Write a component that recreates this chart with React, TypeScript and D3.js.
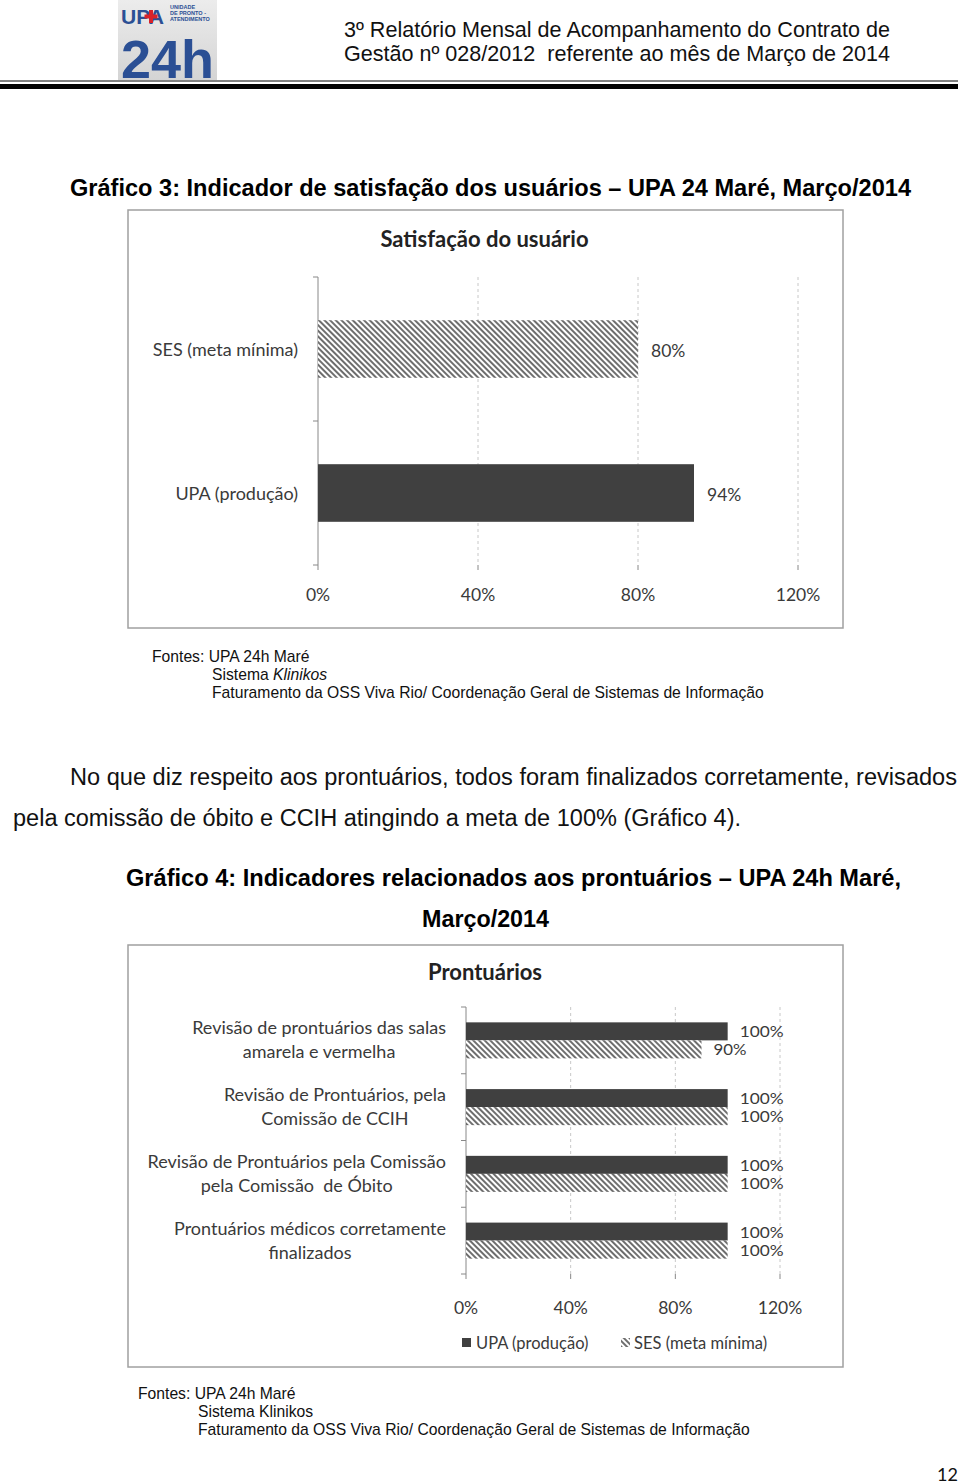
import React from 'react';
import * as d3 from 'd3';

// chart 1
const satCategories = ['SES (meta mínima)', 'UPA (produção)'];
const satValues = [0.8, 0.94];
const xTickValues = [0, 0.4, 0.8, 1.2];

// chart 2
const prontLabels = [
  ['Revisão de prontuários das salas', 'amarela e vermelha'],
  ['Revisão de Prontuários, pela', 'Comissão de CCIH'],
  ['Revisão de Prontuários pela Comissão', 'pela Comissão  de Óbito'],
  ['Prontuários médicos corretamente', 'finalizados'],
];
const seriesNames = ['UPA (produção)', 'SES (meta mínima)'];
const upaValues = [1, 1, 1, 1];
const sesValues = [0.9, 1, 1, 1];

const docFont = '"Liberation Sans", Arial, sans-serif';
const chartFont = 'Lato, "Noto Sans", sans-serif';
const chartText = '#3a3a3a';
const darkBar = '#404040';
const gridColor = '#c8c8c8';
const pct = d3.format('.0%');

const ctx = typeof document !== 'undefined' ? document.createElement('canvas').getContext('2d') : null;
function textWidth(s: string, font: string) {
  if (!ctx) return s.length * 8;
  ctx.font = font;
  return ctx.measureText(s).width;
}

const Logo = () => (
  <g>
    <defs>
      <linearGradient id="logoBg" x1="0" y1="0" x2="0" y2="1">
        <stop offset="0%" stopColor="#ececec" />
        <stop offset="100%" stopColor="#d4d4d4" />
      </linearGradient>
    </defs>
    <rect x={118} y={0} width={99} height={80} fill="url(#logoBg)" />
    <text x={121} y={24} fontFamily={docFont} fontWeight="bold" fontSize={21} fill="#2b4f94" textLength={43} lengthAdjust="spacingAndGlyphs">UPA</text>
    <rect x={149} y={10} width={4} height={13} fill="#d8232a" />
    <rect x={144.5} y={14.5} width={13} height={4} fill="#d8232a" />
    <text fontFamily={docFont} fontSize={5.5} fontWeight="bold" fill="#2b4f94">
      <tspan x={170} y={9}>UNIDADE</tspan>
      <tspan x={170} y={15}>DE PRONTO -</tspan>
      <tspan x={170} y={21}>ATENDIMENTO</tspan>
    </text>
    <text x={121} y={78} fontFamily={docFont} fontWeight="bold" fontSize={54} fill="#2b4f94" textLength={93} lengthAdjust="spacingAndGlyphs">24h</text>
  </g>
);

const HatchDefs = () => (
  <defs>
    <pattern id="hatch" width={4} height={4} patternUnits="userSpaceOnUse" patternTransform="rotate(45)">
      <rect width={4} height={4} fill="#ffffff" />
      <rect width={4} height={2} fill="#6e6e6e" />
    </pattern>
  </defs>
);

const SatisfactionChart = () => {
  const x = d3.scaleLinear().domain([0, 1.2]).range([318, 798]);
  const y = d3.scaleBand<string>().domain(satCategories).range([277, 565]).paddingInner(0.6).paddingOuter(0.3);
  const [top, bottom] = y.range();
  return (
    <g fontFamily={chartFont}>
      <rect x={128} y={210} width={715} height={418} fill="#fff" stroke="#a0a0a0" strokeWidth={1.5} />
      <text x={484.5} y={247} textAnchor="middle" fontWeight="bold" fontSize={22} fill="#222">Satisfação do usuário</text>
      {xTickValues.slice(1).map(t => (
        <line key={t} x1={x(t)} x2={x(t)} y1={top} y2={bottom} stroke={gridColor} strokeDasharray="3,3" />
      ))}
      {xTickValues.map(t => (
        <g key={'t' + t}>
          <line x1={x(t)} x2={x(t)} y1={bottom} y2={bottom + 5} stroke="#888" />
          <text x={x(t)} y={601} textAnchor="middle" fontSize={17.5} fill={chartText}>{pct(t)}</text>
        </g>
      ))}
      <line x1={x(0)} x2={x(0)} y1={top} y2={bottom} stroke="#888" />
      {[top, top + y.step(), bottom].map(v => (
        <line key={v} x1={x(0) - 5} x2={x(0)} y1={v} y2={v} stroke="#888" />
      ))}
      {satCategories.map((c, i) => {
        const by = y(c)!;
        const cy = by + y.bandwidth() / 2;
        return (
          <g key={c}>
            <rect x={x(0)} y={by} width={x(satValues[i]) - x(0)} height={y.bandwidth()}
              fill={i === 0 ? 'url(#hatch)' : darkBar} />
            <text x={298} y={cy + 7} textAnchor="end" fontSize={18} fill={chartText}>{c}</text>
            <text x={x(satValues[i]) + 13} y={cy + 8} fontSize={17.5} fill={chartText}>{pct(satValues[i])}</text>
          </g>
        );
      })}
    </g>
  );
};

const ProntuariosChart = () => {
  const x = d3.scaleLinear().domain([0, 1.2]).range([466, 780]);
  const idx = prontLabels.map((_, i) => String(i));
  const y = d3.scaleBand<string>().domain(idx).range([1007, 1274]).paddingInner(0.46).paddingOuter(0.23);
  const sub = d3.scaleBand<string>().domain(seriesNames).range([0, y.bandwidth()]);
  const [top, bottom] = y.range();
  const labelFont = `18px ${chartFont}`;
  const series = [upaValues, sesValues];
  return (
    <g fontFamily={chartFont}>
      <rect x={128} y={945} width={715} height={422} fill="#fff" stroke="#a0a0a0" strokeWidth={1.5} />
      <text x={485} y={980} textAnchor="middle" fontWeight="bold" fontSize={22} fill="#222">Prontuários</text>
      {xTickValues.slice(1).map(t => (
        <line key={t} x1={x(t)} x2={x(t)} y1={top} y2={bottom} stroke={gridColor} strokeDasharray="3,3" />
      ))}
      {xTickValues.map(t => (
        <g key={'t' + t}>
          <line x1={x(t)} x2={x(t)} y1={bottom} y2={bottom + 5} stroke="#888" />
          <text x={x(t)} y={1314} textAnchor="middle" fontSize={17.5} fill={chartText}>{pct(t)}</text>
        </g>
      ))}
      <line x1={x(0)} x2={x(0)} y1={top} y2={bottom} stroke="#888" />
      {d3.range(prontLabels.length + 1).map(k => {
        const v = top + k * y.step();
        return <line key={k} x1={x(0) - 5} x2={x(0)} y1={v} y2={v} stroke="#888" />;
      })}
      {prontLabels.map((lines, i) => {
        const by = y(String(i))!;
        const cy = by + y.bandwidth() / 2;
        const w = Math.max(...lines.map(l => textWidth(l, labelFont)));
        const cx = 446 - w / 2;
        return (
          <g key={i}>
            {seriesNames.map((s, j) => {
              const v = series[j][i];
              const sy = by + sub(s)!;
              const lbl = pct(v);
              return (
                <g key={s}>
                  <rect x={x(v) - x(0) > 0 ? x(0) : x(0)} y={sy} width={x(v) - x(0)} height={sub.bandwidth()}
                    fill={j === 0 ? darkBar : 'url(#hatch)'} />
                  <text x={x(v) + 12} y={sy + sub.bandwidth() / 2 + 6} fontSize={14.5}
                    textLength={lbl.length * 11} lengthAdjust="spacingAndGlyphs" fill={chartText}>{lbl}</text>
                </g>
              );
            })}
            {lines.map((l, k) => (
              <text key={k} x={cx} y={cy - 12 + k * 24 + 6} textAnchor="middle" fontSize={18} fill={chartText}
                style={{ whiteSpace: 'pre' }}>{l}</text>
            ))}
          </g>
        );
      })}
      <rect x={462} y={1338} width={9} height={9} fill={darkBar} />
      <text x={476} y={1349} fontSize={16.5} fill={chartText}>{seriesNames[0]}</text>
      <rect x={621} y={1338} width={9} height={9} fill="url(#hatch)" />
      <text x={634} y={1349} fontSize={16.5} fill={chartText}>{seriesNames[1]}</text>
    </g>
  );
};

const Fontes = ({ x, y, italic }: { x: number; y: number; italic: boolean }) => (
  <text fontFamily={docFont} fontSize={15.7} fill="#111">
    <tspan x={x} y={y}>Fontes: UPA 24h Maré</tspan>
    <tspan x={x + 60} y={y + 18}>Sistema </tspan>
    <tspan fontStyle={italic ? 'italic' : 'normal'}>Klinikos</tspan>
    <tspan x={x + 60} y={y + 36}>Faturamento da OSS Viva Rio/ Coordenação Geral de Sistemas de Informação</tspan>
  </text>
);

export default function App() {
  return (
    <svg width={960} height={1484} style={{ position: 'absolute', left: 0, top: 0, background: '#fff' }}>
      <HatchDefs />
      <rect width={960} height={1484} fill="#fff" />
      <Logo />
      <g fontFamily={docFont} fontSize={21.5} fill="#111">
        <text x={344} y={37} textLength={546} lengthAdjust="spacingAndGlyphs">3º Relatório Mensal de Acompanhamento do Contrato de</text>
        <text x={344} y={61} textLength={546} lengthAdjust="spacingAndGlyphs" style={{ whiteSpace: 'pre' }}>Gestão nº 028/2012  referente ao mês de Março de 2014</text>
      </g>
      <line x1={0} x2={958} y1={81} y2={81} stroke="#000" strokeWidth={1} />
      <rect x={0} y={84} width={958} height={5} fill="#000" />

      <text x={70} y={196} textLength={841} lengthAdjust="spacingAndGlyphs" fontFamily={docFont} fontWeight="bold" fontSize={23.5} fill="#000">
        Gráfico 3: Indicador de satisfação dos usuários – UPA 24 Maré, Março/2014
      </text>
      <SatisfactionChart />
      <Fontes x={152} y={662} italic={true} />

      <g fontFamily={docFont} fontSize={23.5} fill="#111">
        <text x={70} y={785} textLength={887} lengthAdjust="spacingAndGlyphs">No que diz respeito aos prontuários, todos foram finalizados corretamente, revisados</text>
        <text x={13} y={826} textLength={728} lengthAdjust="spacingAndGlyphs">pela comissão de óbito e CCIH atingindo a meta de 100% (Gráfico 4).</text>
      </g>
      <g fontFamily={docFont} fontWeight="bold" fontSize={23.5} fill="#000">
        <text x={126} y={886} textLength={775} lengthAdjust="spacingAndGlyphs">Gráfico 4: Indicadores relacionados aos prontuários – UPA 24h Maré,</text>
        <text x={422} y={927} textLength={127} lengthAdjust="spacingAndGlyphs">Março/2014</text>
      </g>
      <ProntuariosChart />
      <Fontes x={138} y={1399} italic={false} />

      <text x={937} y={1481} fontFamily={chartFont} fontSize={18} fill="#111">12</text>
    </svg>
  );
}
